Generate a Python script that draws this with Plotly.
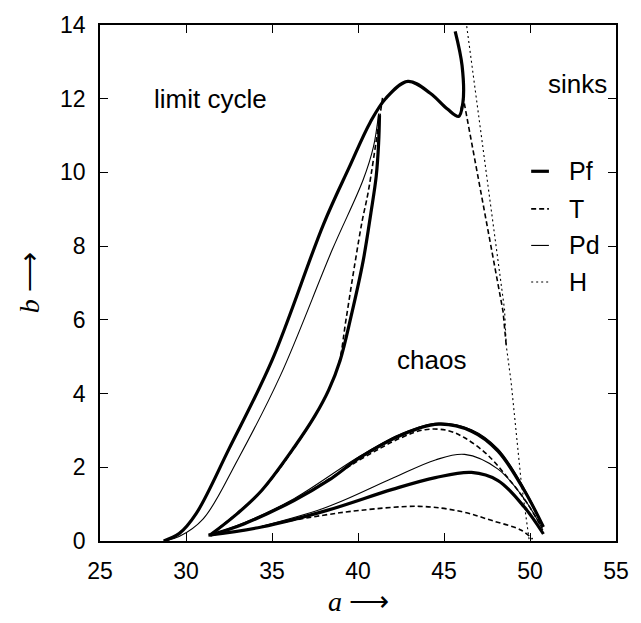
import plotly.graph_objects as go

# ---------------- data ----------------
# Pf (thick solid) curves
pf_outer_a = [28.7, 29.6, 30.6, 32.5, 35.0, 38.0, 39.5, 40.7, 41.6, 42.9, 44.2, 45.2, 45.85, 46.1, 46.05, 45.65]
pf_outer_b = [0.0, 0.2, 0.75, 2.5, 4.9, 8.6, 10.15, 11.35, 12.0, 12.47, 12.15, 11.72, 11.52, 11.9, 12.9, 13.83]

pf_inner_a = [31.4, 33.0, 34.4, 36.3, 37.5, 38.3, 38.96, 39.6, 40.3, 40.75, 41.06, 41.2, 41.25]
pf_inner_b = [0.16, 0.75, 1.37, 2.55, 3.4, 4.1, 4.9, 6.1, 7.6, 8.9, 9.9, 10.8, 11.55]

pf_bump_a = [31.4, 33.4, 36.28, 38.3, 40.1, 42.6, 44.7, 46.6, 48.14, 49.67, 50.78]
pf_bump_b = [0.16, 0.47, 1.1, 1.65, 2.26, 2.89, 3.17, 2.98, 2.44, 1.37, 0.38]

pf_low_a = [31.3, 34.4, 38.2, 42.0, 44.5, 46.6, 48.14, 49.67, 50.78]
pf_low_b = [0.16, 0.38, 0.83, 1.4, 1.72, 1.86, 1.64, 0.92, 0.19]

# T (dashed) curves
t_inner_a = [31.5, 34.4, 36.3, 37.5, 38.3, 38.9, 39.3, 39.82, 40.25, 40.59, 41.2, 41.45]
t_inner_b = [0.2, 1.37, 2.53, 3.4, 4.1, 4.85, 6.0, 7.53, 8.7, 9.46, 11.3, 12.1]

t_bump_a = [31.4, 33.4, 36.28, 40.1, 42.5, 43.9, 45.2, 46.2, 47.5, 48.7, 49.8, 50.7]
t_bump_b = [0.16, 0.47, 1.1, 2.2, 2.8, 3.02, 3.0, 2.8, 2.35, 1.72, 1.05, 0.35]

t_low_a = [31.5, 33.5, 35.3, 38.0, 40.1, 43.55, 46.0, 47.75, 49.5, 50.15]
t_low_b = [0.17, 0.3, 0.48, 0.7, 0.83, 0.94, 0.8, 0.56, 0.29, 0.05]

t_right_a = [45.98, 46.13, 47.33, 48.43, 48.62]
t_right_b = [11.7, 12.0, 9.0, 6.24, 5.3]

# Pd (thin solid) curves
pd_outer_a = [28.7, 29.6, 31.0, 33.0, 35.5, 38.5, 40.3, 40.9, 41.2]
pd_outer_b = [0.0, 0.12, 0.6, 2.2, 4.5, 7.9, 9.8, 10.7, 11.6]

pd_inner_a = [31.4, 34.4, 36.3, 37.5, 38.3, 38.96, 39.6, 40.3, 40.75, 41.06, 41.2]
pd_inner_b = [0.16, 1.37, 2.55, 3.4, 4.1, 4.9, 6.1, 7.6, 8.9, 9.9, 11.2]

pd_mid_a = [34.4, 38.2, 42.0, 44.5, 46.2, 48.14, 49.67, 50.75]
pd_mid_b = [0.4, 0.92, 1.7, 2.2, 2.35, 1.95, 1.14, 0.3]

pd_bump_a = [31.4, 33.4, 36.28, 40.1, 42.6, 44.7, 46.6, 48.14, 49.67, 50.75]
pd_bump_b = [0.16, 0.5, 1.15, 2.3, 2.93, 3.2, 3.02, 2.5, 1.42, 0.42]

# H (dotted) curve
h_a = [46.32, 47.46, 48.52, 48.62, 48.9, 49.48, 49.96]
h_b = [13.97, 10.0, 6.28, 5.3, 4.32, 1.64, 0.0]

legend_labels = ["Pf", "T", "Pd", "H"]
region_labels = ["limit cycle", "chaos", "sinks"]
region_a = [31.45, 44.3, 52.75]
region_b = [12.0, 4.9, 12.4]

x_ticks = [25, 30, 35, 40, 45, 50, 55]
y_ticks = [0, 2, 4, 6, 8, 10, 12, 14]

# ---------------- styles ----------------
STY = {
    "Pf": dict(color="black", width=3.2, dash="solid"),
    "T": dict(color="black", width=1.6, dash="5px,3px"),
    "Pd": dict(color="black", width=1.1, dash="solid"),
    "H": dict(color="black", width=1.1, dash="2px,3px"),
}

curves = [
    ("Pd", pd_outer_a, pd_outer_b, "spline"),
    ("Pd", pd_inner_a, pd_inner_b, "spline"),
    ("Pd", pd_mid_a, pd_mid_b, "spline"),
    ("Pd", pd_bump_a, pd_bump_b, "spline"),
    ("T", t_inner_a, t_inner_b, "spline"),
    ("T", t_bump_a, t_bump_b, "spline"),
    ("T", t_low_a, t_low_b, "spline"),
    ("T", t_right_a, t_right_b, "linear"),
    ("H", h_a, h_b, "linear"),
    ("Pf", pf_outer_a, pf_outer_b, "spline"),
    ("Pf", pf_inner_a, pf_inner_b, "spline"),
    ("Pf", pf_bump_a, pf_bump_b, "spline"),
    ("Pf", pf_low_a, pf_low_b, "spline"),
]

fig = go.Figure()
for name, xs, ys, shp in curves:
    ln = dict(shape=shp, **STY[name])
    if shp == "spline":
        ln["smoothing"] = 1.0
    fig.add_trace(go.Scatter(
        x=xs, y=ys, mode="lines", name=name, showlegend=False,
        line=ln, hoverinfo="skip",
    ))

FONT = "Liberation Sans, Arial, sans-serif"
SERIF = "Liberation Serif, Times New Roman, serif"

# region labels
for txt, xa, yb in zip(region_labels, region_a, region_b):
    fig.add_annotation(x=xa, y=yb, xref="x", yref="y", text=txt, showarrow=False,
                       font=dict(family=FONT, size=26, color="black"))

# manual legend (gnuplot style key)
leg_y = [0.7165, 0.6437, 0.5728, 0.5019]
for lab, ly in zip(legend_labels, leg_y):
    s = STY[lab]
    fig.add_shape(type="line", xref="paper", yref="paper", x0=0.8356, x1=0.870, y0=ly, y1=ly,
                  line=dict(color="black", width=s["width"], dash=s["dash"]))
    fig.add_annotation(x=0.9044, y=ly, xref="paper", yref="paper", text=lab, showarrow=False,
                       xanchor="left", yanchor="middle",
                       font=dict(family=FONT, size=25, color="black"))

# axis titles
fig.add_annotation(x=0.5, y=-0.118, xref="paper", yref="paper",
                   text="<i>a</i> ⟶", showarrow=False,
                   xanchor="center", yanchor="middle", font=dict(family=SERIF, size=28, color="black"))
fig.add_annotation(x=-0.137, y=0.5, xref="paper", yref="paper",
                   text="<i>b</i> ⟶", showarrow=False,
                   textangle=-90, xanchor="center", yanchor="middle",
                   font=dict(family=SERIF, size=28, color="black"))

axis_common = dict(showgrid=False, zeroline=False, showline=True, linecolor="black", linewidth=1.5,
                   mirror="allticks", ticks="inside", ticklen=8, tickwidth=1.2, tickcolor="black",
                   tickfont=dict(family=FONT, size=23, color="black"))

fig.update_xaxes(range=[25, 55], tickvals=x_ticks, ticktext=[str(v) for v in x_ticks],
                 ticklabelstandoff=9, **axis_common)
fig.update_yaxes(range=[0, 14], tickvals=y_ticks, ticktext=[str(v) for v in y_ticks],
                 ticklabelstandoff=8, **axis_common)

fig.update_layout(width=641, height=623, margin=dict(l=100, r=18, t=19, b=82),
                  plot_bgcolor="white", paper_bgcolor="white", showlegend=False)

fig.write_html("out.html")
